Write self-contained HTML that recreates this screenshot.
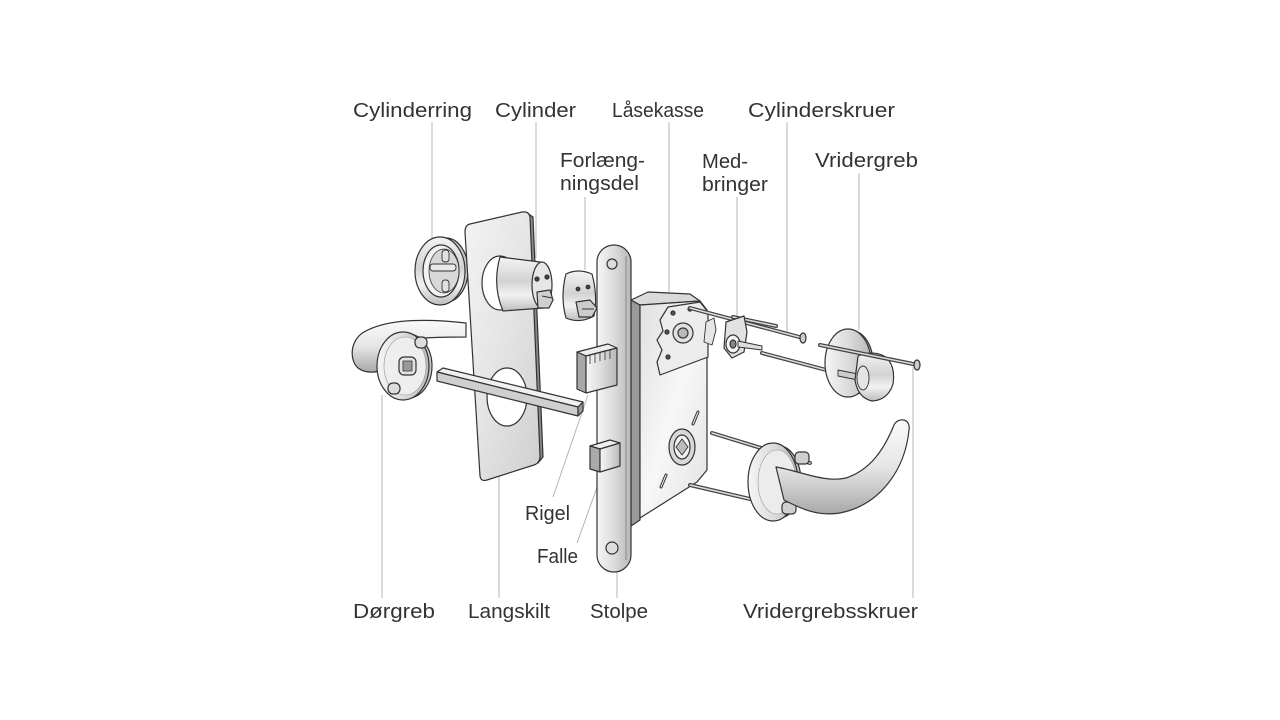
<!DOCTYPE html>
<html><head><meta charset="utf-8"><style>
html,body{margin:0;padding:0;background:#fff;}
svg{display:block;}
text{font-family:"Liberation Sans",sans-serif;font-size:20px;fill:#333;}
</style></head><body>
<svg width="1280" height="720" viewBox="0 0 1280 720" xmlns="http://www.w3.org/2000/svg">
<defs>
<linearGradient id="gv" x1="0" y1="0" x2="0" y2="1">
<stop offset="0" stop-color="#f4f4f4"/><stop offset="0.45" stop-color="#d2d2d2"/><stop offset="0.7" stop-color="#f2f2f2"/><stop offset="1" stop-color="#bdbdbd"/></linearGradient>
<linearGradient id="gh" x1="0" y1="0" x2="1" y2="0">
<stop offset="0" stop-color="#f6f6f6"/><stop offset="0.5" stop-color="#dcdcdc"/><stop offset="1" stop-color="#b8b8b8"/></linearGradient>
<linearGradient id="gplate" x1="0" y1="0" x2="1" y2="1">
<stop offset="0" stop-color="#f3f3f3"/><stop offset="0.5" stop-color="#e4e4e4"/><stop offset="1" stop-color="#cfcfcf"/></linearGradient>
<linearGradient id="gcase" x1="0" y1="0" x2="1" y2="1">
<stop offset="0" stop-color="#e0e0e0"/><stop offset="0.5" stop-color="#f7f7f7"/><stop offset="1" stop-color="#e2e2e2"/></linearGradient>
<linearGradient id="glever" x1="0" y1="0" x2="0" y2="1">
<stop offset="0" stop-color="#fafafa"/><stop offset="0.5" stop-color="#e6e6e6"/><stop offset="1" stop-color="#a9a9a9"/></linearGradient>
</defs>

<!-- leader lines -->
<g stroke="#b4b4b4" stroke-width="1" fill="none">
<line x1="432" y1="122" x2="432" y2="240"/>
<line x1="536" y1="122" x2="536" y2="258"/>
<line x1="669" y1="122" x2="669" y2="293"/>
<line x1="787" y1="122" x2="787" y2="333"/>
<line x1="585" y1="197" x2="585" y2="270"/>
<line x1="737" y1="197" x2="737" y2="318"/>
<line x1="859" y1="173" x2="859" y2="330"/>
<line x1="382" y1="395" x2="382" y2="598"/>
<line x1="499" y1="470" x2="499" y2="598"/>
<line x1="617" y1="570" x2="617" y2="598"/>
<line x1="913" y1="367" x2="913" y2="598"/>
<line x1="588" y1="395" x2="553" y2="497"/>
<line x1="608" y1="457" x2="577" y2="543"/>
</g>

<!-- labels -->
<text x="353" y="117" textLength="119" lengthAdjust="spacingAndGlyphs">Cylinderring</text>
<text x="495" y="117" textLength="81" lengthAdjust="spacingAndGlyphs">Cylinder</text>
<text x="612" y="117" textLength="92" lengthAdjust="spacingAndGlyphs">Låsekasse</text>
<text x="748" y="117" textLength="147" lengthAdjust="spacingAndGlyphs">Cylinderskruer</text>
<text x="560" y="167" textLength="85" lengthAdjust="spacingAndGlyphs">Forlæng-</text>
<text x="560" y="190" textLength="79" lengthAdjust="spacingAndGlyphs">ningsdel</text>
<text x="702" y="168" textLength="46" lengthAdjust="spacingAndGlyphs">Med-</text>
<text x="702" y="191" textLength="66" lengthAdjust="spacingAndGlyphs">bringer</text>
<text x="815" y="167" textLength="103" lengthAdjust="spacingAndGlyphs">Vridergreb</text>
<text x="525" y="520" textLength="45" lengthAdjust="spacingAndGlyphs">Rigel</text>
<text x="537" y="563" textLength="41" lengthAdjust="spacingAndGlyphs">Falle</text>
<text x="353" y="618" textLength="82" lengthAdjust="spacingAndGlyphs">Dørgreb</text>
<text x="468" y="618" textLength="82" lengthAdjust="spacingAndGlyphs">Langskilt</text>
<text x="590" y="618" textLength="58" lengthAdjust="spacingAndGlyphs">Stolpe</text>
<text x="743" y="618" textLength="175" lengthAdjust="spacingAndGlyphs">Vridergrebsskruer</text>

<g stroke="#333" stroke-width="1.2" stroke-linejoin="round">
<!-- cylinder ring -->
<ellipse cx="446" cy="270" rx="22" ry="32" fill="#c8c8c8"/>
<ellipse cx="440" cy="271" rx="25" ry="34" fill="url(#gv)"/>
<ellipse cx="441" cy="271" rx="18" ry="26" fill="#f2f2f2"/>
<ellipse cx="444" cy="271" rx="15" ry="22" fill="#d8d8d8" stroke-width="0.8"/>
<rect x="430" y="264" width="26" height="7" rx="3" fill="#e8e8e8" stroke-width="0.9"/>
<rect x="442" y="250" width="7" height="12" rx="3" fill="#e0e0e0" stroke-width="0.9"/>
<rect x="442" y="280" width="7" height="12" rx="3" fill="#e0e0e0" stroke-width="0.9"/>

<!-- left handle lever -->
<path d="M466 323 C430 319 388 318 364 332 C350 340 349 360 358 368 C366 374 378 373 386 368 L400 340 C430 337 450 337 466 337 Z" fill="url(#glever)"/>
<!-- left rose -->
<ellipse cx="408" cy="366" rx="24" ry="32" fill="#cfcfcf"/>
<ellipse cx="403" cy="366" rx="26" ry="34" fill="url(#gh)"/>
<ellipse cx="405" cy="366" rx="21" ry="29" fill="#eeeeee" stroke-width="0.6" stroke="#999"/>
<rect x="415" y="337" width="12" height="11" rx="5" fill="#ddd"/>
<rect x="388" y="383" width="12" height="11" rx="5" fill="#ddd"/>
<rect x="399" y="357" width="17" height="18" rx="5" fill="#e2e2e2"/>
<rect x="403" y="361" width="9" height="10" fill="#9a9a9a" stroke-width="0.8"/>

<!-- langskilt plate -->
<path d="M527 213 L533 217 L543 457 L538 463 Z" fill="#8a8a8a"/>
<path d="M470 224 L522 212 Q529 211 530 217 L540 456 Q540 463 534 465 L487 480 Q481 482 480 476 L465 232 Q465 225 470 224 Z" fill="url(#gplate)"/>
<ellipse cx="500" cy="283" rx="18" ry="27" fill="#fff"/>
<ellipse cx="507" cy="397" rx="20" ry="29" fill="#fff"/>

<!-- spindle -->
<path d="M437 372 L443 368 L583 402 L578 407 Z" fill="#f0f0f0"/>
<path d="M437 372 L578 407 L578 416 L437 381 Z" fill="#cfcfcf"/>
<path d="M578 407 L583 402 L583 411 L578 416 Z" fill="#999"/>

<!-- cylinder -->
<path d="M500 257 L540 262 L543 308 L503 311 Q492 285 500 257 Z" fill="url(#gv)"/>
<ellipse cx="542" cy="285" rx="10" ry="23" fill="#e6e6e6"/>
<circle cx="537" cy="279" r="2" fill="#444"/>
<circle cx="547" cy="277" r="2" fill="#444"/>
<path d="M537 292 L550 290 L553 300 L549 308 L538 308 Z" fill="#d0d0d0"/>
<path d="M542 296 L552 298" stroke-width="1"/>

<!-- forlaengningsdel -->
<path d="M566 274 Q578 268 592 274 Q598 296 594 316 Q580 324 566 318 Q560 296 566 274 Z" fill="url(#gv)"/>
<circle cx="578" cy="289" r="1.8" fill="#444"/>
<circle cx="588" cy="287" r="1.8" fill="#444"/>
<path d="M576 302 L590 300 L597 308 L592 317 L579 317 Z" fill="#ccc"/>
<path d="M582 309 L594 309" stroke-width="1"/>

<!-- lock case -->
<path d="M631 300 L640 305 L640 520 L631 526 Z" fill="#9a9a9a"/>
<path d="M631 300 L648 292 L690 294 L700 301 L640 305 Z" fill="#dadada"/>
<path d="M640 305 L700 301 L707 310 L707 470 L697 482 L640 518 Z" fill="url(#gcase)"/>
<path d="M668 307 L700 302 L708 312 L708 357 L660 375 L657 362 L662 350 L657 340 L663 331 L660 320 Z" fill="#ececec"/>
<circle cx="683" cy="333" r="10" fill="#e0e0e0"/>
<circle cx="683" cy="333" r="5" fill="#bbb"/>
<circle cx="673" cy="313" r="2" fill="#555"/>
<circle cx="667" cy="332" r="2" fill="#555"/>
<circle cx="668" cy="357" r="2" fill="#555"/>
<circle cx="690" cy="309" r="2" fill="#555"/>
<ellipse cx="682" cy="447" rx="13" ry="18" fill="#d8d8d8"/>
<ellipse cx="682" cy="447" rx="8" ry="12" fill="#f2f2f2"/>
<path d="M676 447 L682 439 L688 447 L682 455 Z" fill="#bbb" stroke-width="0.9"/>
<path d="M693 424 L698 412" stroke-width="3" stroke-linecap="round"/>
<path d="M661 487 L666 475" stroke-width="3" stroke-linecap="round"/>
<path d="M693 424 L698 412" stroke="#eee" stroke-width="1" stroke-linecap="round"/>
<path d="M661 487 L666 475" stroke="#eee" stroke-width="1" stroke-linecap="round"/>

<!-- stolpe -->
<path d="M597 262 A17 17 0 0 1 631 262 L631 555 A17 17 0 0 1 597 555 Z" fill="url(#gh)"/>
<path d="M626 256 L626 560" stroke="#888" stroke-width="1"/>
<circle cx="612" cy="264" r="5" fill="#ddd"/>
<circle cx="612" cy="548" r="6" fill="#ddd"/>

<!-- rigel -->
<path d="M577 352 L608 344 L617 348 L586 356 Z" fill="#eee"/>
<path d="M577 352 L586 356 L586 393 L577 389 Z" fill="#a8a8a8"/>
<path d="M586 356 L617 348 L617 385 L586 393 Z" fill="url(#gh)"/>
<g stroke-width="0.8"><line x1="590" y1="355" x2="590" y2="364"/><line x1="595" y1="354" x2="595" y2="363"/><line x1="600" y1="352" x2="600" y2="361"/><line x1="605" y1="351" x2="605" y2="360"/><line x1="610" y1="350" x2="610" y2="359"/></g>

<!-- falle -->
<path d="M590 446 L610 440 L620 443 L600 449 Z" fill="#eee"/>
<path d="M590 446 L600 449 L600 472 L590 469 Z" fill="#aaa"/>
<path d="M600 449 L620 443 L620 466 L600 472 Z" fill="url(#gh)"/>

<!-- screws upper -->
<g stroke-linecap="round">
<line x1="690" y1="308" x2="803" y2="338" stroke="#444" stroke-width="4"/>
<line x1="690" y1="308" x2="803" y2="338" stroke="#ddd" stroke-width="1.5"/>
<line x1="733" y1="317" x2="776" y2="326" stroke="#444" stroke-width="4"/>
<line x1="733" y1="317" x2="776" y2="326" stroke="#ddd" stroke-width="1.5"/>
<line x1="762" y1="353" x2="830" y2="371" stroke="#444" stroke-width="4"/>
<line x1="762" y1="353" x2="830" y2="371" stroke="#ddd" stroke-width="1.5"/>
</g>
<ellipse cx="803" cy="338" rx="3" ry="5" fill="#ccc"/>
<!-- medbringer -->
<path d="M706 322 L714 318 L716 330 L712 345 L704 342 Z" fill="#e6e6e6" stroke-width="0.9"/>
<path d="M726 322 L744 316 L747 332 L744 352 L732 358 L724 348 Z" fill="#e2e2e2"/>
<ellipse cx="733" cy="344" rx="7" ry="9" fill="#f4f4f4"/>
<ellipse cx="733" cy="344" rx="3" ry="4" fill="#888"/>
<path d="M738 341 L762 346 L762 350 L738 347 Z" fill="#ddd" stroke-width="0.9"/>

<!-- vridergreb rose + knob -->
<ellipse cx="852" cy="363" rx="21" ry="32" fill="#c8c8c8"/>
<ellipse cx="848" cy="363" rx="23" ry="34" fill="url(#gh)"/>
<path d="M838 370 L858 374 L858 380 L838 376 Z" fill="#ccc" stroke-width="0.9"/>
<path d="M858 356 Q872 350 884 356 Q896 364 893 384 Q888 400 872 401 Q858 398 855 380 Z" fill="url(#gv)"/>
<ellipse cx="863" cy="378" rx="6" ry="12" fill="#e4e4e4" stroke-width="0.9"/>
<g stroke-linecap="round">
<line x1="820" y1="345" x2="918" y2="365" stroke="#444" stroke-width="4"/>
<line x1="820" y1="345" x2="918" y2="365" stroke="#ddd" stroke-width="1.5"/>
</g>
<ellipse cx="917" cy="365" rx="3" ry="5" fill="#ccc"/>

<!-- lever screws -->
<g stroke-linecap="round">
<line x1="712" y1="433" x2="810" y2="463" stroke="#444" stroke-width="4"/>
<line x1="712" y1="433" x2="810" y2="463" stroke="#ddd" stroke-width="1.5"/>
<line x1="690" y1="485" x2="767" y2="503" stroke="#444" stroke-width="4"/>
<line x1="690" y1="485" x2="767" y2="503" stroke="#ddd" stroke-width="1.5"/>
</g>

<!-- right lever rose -->
<ellipse cx="779" cy="482" rx="22" ry="36" fill="#c4c4c4"/>
<ellipse cx="773" cy="482" rx="25" ry="39" fill="url(#gh)"/>
<ellipse cx="777" cy="482" rx="19" ry="32" fill="#ececec" stroke-width="0.6" stroke="#999"/>
<rect x="795" y="452" width="14" height="12" rx="4" fill="#cfcfcf"/>
<rect x="782" y="502" width="14" height="12" rx="4" fill="#cfcfcf"/>
<!-- right lever -->
<path d="M776 467 C800 471 825 483 846 478 C870 470 884 450 894 425 C898 417 911 418 909 430 C905 470 880 505 840 513 C815 517 796 506 784 500 Z" fill="url(#glever)"/>
</g>
</svg>
</body></html>
